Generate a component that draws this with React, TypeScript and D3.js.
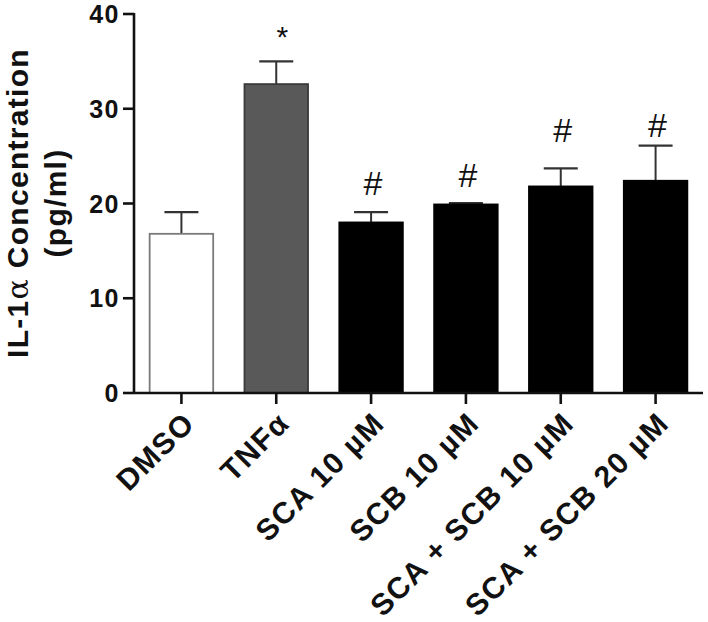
import React from "react";
import * as d3 from "d3";

const categories = ["DMSO", "TNFα", "SCA 10 µM", "SCB 10 µM", "SCA + SCB 10 µM", "SCA + SCB 20 µM"];
const means = [16.8, 32.6, 18.0, 19.9, 21.8, 22.4];
const errors = [2.3, 2.4, 1.1, 0.15, 1.9, 3.7];
const marks = ["", "*", "#", "#", "#", "#"];
const markLevels = [0, 37.6, 22.2, 23.0, 27.8, 28.3];
const fills = ["#ffffff", "#595959", "#000000", "#000000", "#000000", "#000000"];
const strokes = ["#7a7a7a", "#3a3a3a", "#000000", "#000000", "#000000", "#000000"];
const yTicks = [0, 10, 20, 30, 40];

const W = 708;
const H = 622;
const left = 134;
const right = 703;
const top = 14;
const bottom = 393;
const FONT = "'Liberation Sans', Arial, Helvetica, sans-serif";

export default function App() {
  const x = d3
    .scaleBand<string>()
    .domain(categories)
    .range([left, right])
    .paddingInner(0.33)
    .paddingOuter(0.165);
  const y = d3.scaleLinear().domain([0, 40]).range([bottom, top]);
  const bw = x.bandwidth();
  const capW = 34;

  return (
    <svg
      width={W}
      height={H}
      viewBox={`0 0 ${W} ${H}`}
      style={{ position: "absolute", left: 0, top: 0, background: "#fff" }}
      fontFamily={FONT}
    >
      {/* bars */}
      {categories.map((c, i) => {
        const x0 = x(c)!;
        const cx = x0 + bw / 2;
        const yt = y(means[i]);
        const ye = y(means[i] + errors[i]);
        return (
          <g key={c}>
            <line x1={cx} x2={cx} y1={yt} y2={ye} stroke="#333" strokeWidth={2} />
            <line x1={cx - capW / 2} x2={cx + capW / 2} y1={ye} y2={ye} stroke="#333" strokeWidth={2.2} />
            <rect
              x={x0}
              y={yt}
              width={bw}
              height={bottom - yt}
              fill={fills[i]}
              stroke={strokes[i]}
              strokeWidth={1.8}
            />
            {marks[i] && (
              <text
                x={cx + (marks[i] === "*" ? 6 : 2)}
                y={y(markLevels[i])}
                textAnchor="middle"
                dominantBaseline="central"
                fontSize={marks[i] === "*" ? 30 : 34}
                fill="#111"
              >
                {marks[i]}
              </text>
            )}
          </g>
        );
      })}

      {/* y axis */}
      <line x1={left} x2={left} y1={top - 1} y2={bottom} stroke="#111" strokeWidth={2.6} />
      {yTicks.map((t) => (
        <g key={t}>
          <line x1={left - 11} x2={left} y1={y(t)} y2={y(t)} stroke="#111" strokeWidth={2.6} />
          <text
            x={left - 14}
            y={y(t)}
            dy="0.36em"
            textAnchor="end"
            fontSize={25}
            fontWeight="bold"
            letterSpacing={1.5}
            fill="#111"
          >
            {t}
          </text>
        </g>
      ))}

      {/* x axis */}
      <line x1={left} x2={right} y1={bottom} y2={bottom} stroke="#111" strokeWidth={2.6} />
      {categories.map((c) => {
        const cx = x(c)! + bw / 2;
        return (
          <g key={"t" + c}>
            <line x1={cx} x2={cx} y1={bottom} y2={bottom + 11} stroke="#111" strokeWidth={2.6} />
            <text
              transform={`translate(${cx + 15},${425}) rotate(-45)`}
              textAnchor="end"
              fontSize={30}
              fontWeight="bold"
              letterSpacing={1.4}
              fill="#111"
            >
              {c}
            </text>
          </g>
        );
      })}

      {/* y title */}
      <g transform={`translate(28,${203}) rotate(-90)`}>
        <text textAnchor="middle" fontSize={30} fontWeight="bold" letterSpacing={1.3} fill="#111">
          IL-1
          <tspan fontFamily="'DejaVu Serif', 'Liberation Serif', serif" fontWeight="normal">α</tspan>
          {" Concentration"}
        </text>
        <text y={38} textAnchor="middle" fontSize={30} fontWeight="bold" letterSpacing={1.3} fill="#111">
          (pg/ml)
        </text>
      </g>
    </svg>
  );
}
